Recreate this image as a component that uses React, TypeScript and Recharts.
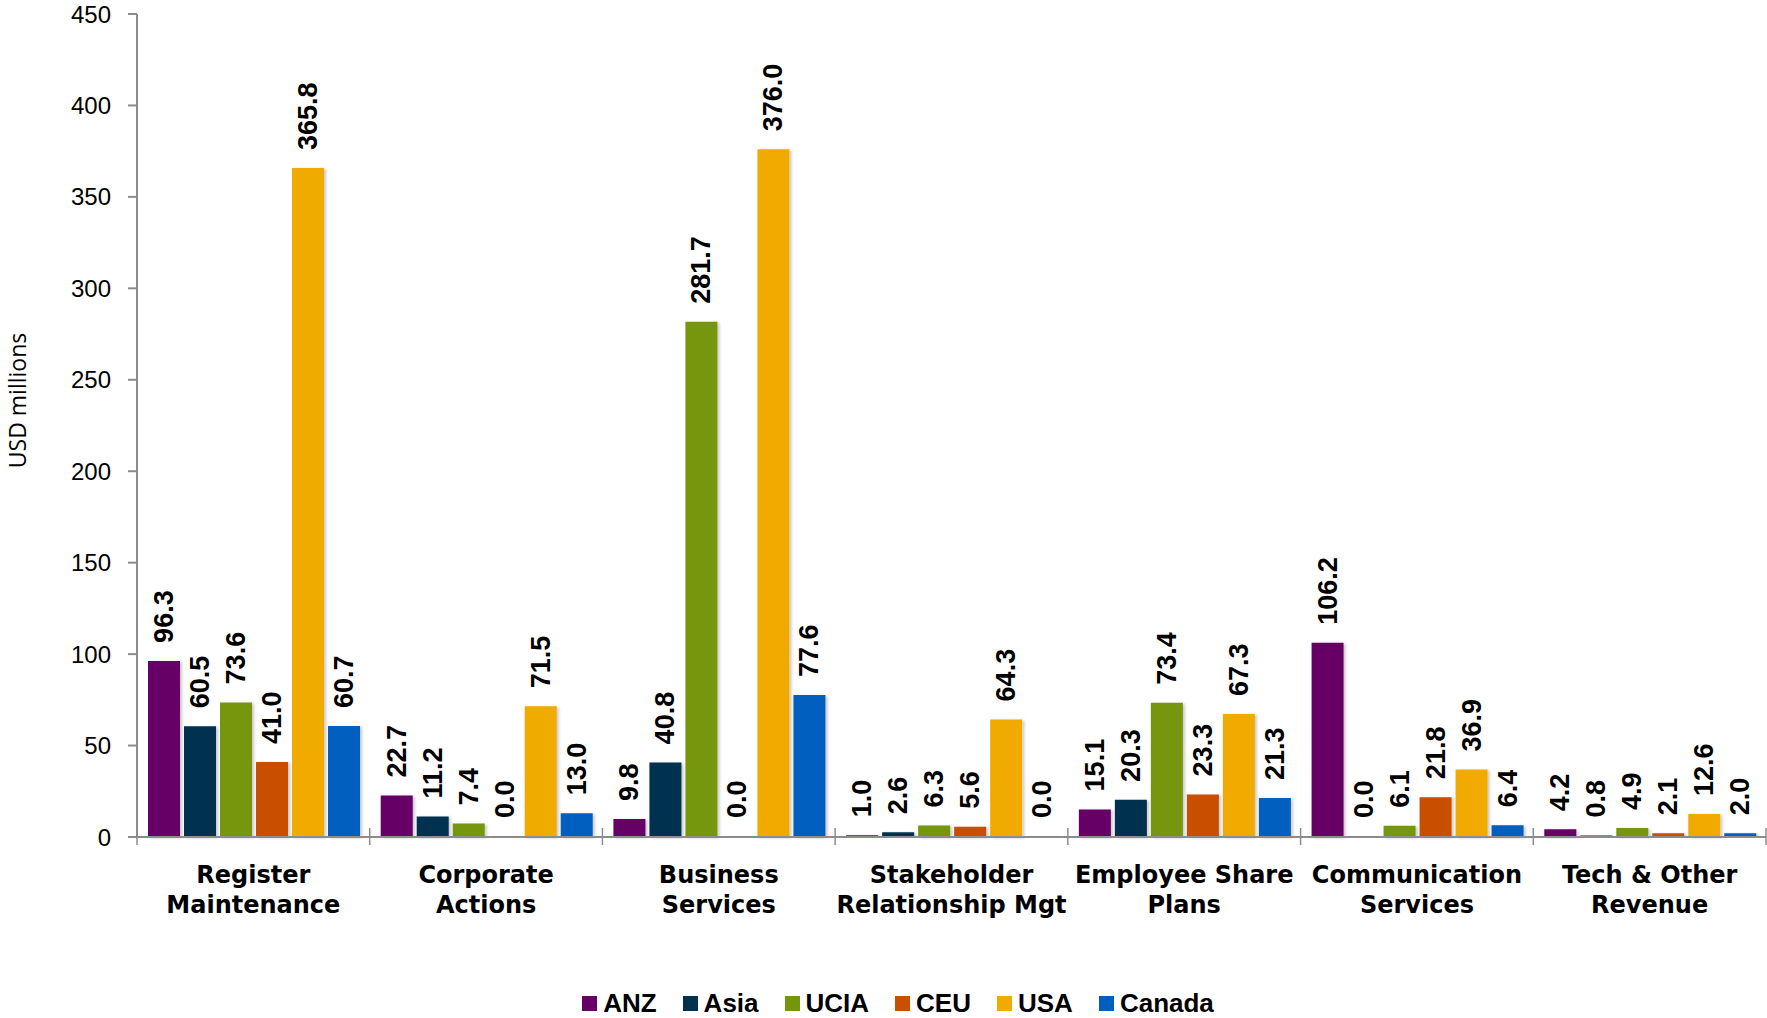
import { BarChart, Bar, XAxis, YAxis, Legend, LabelList } from 'recharts';

if (typeof document !== 'undefined') {
  document.body.style.margin = '0';
}

const CATEGORIES = [
  'Register\nMaintenance',
  'Corporate\nActions',
  'Business\nServices',
  'Stakeholder\nRelationship Mgt',
  'Employee Share\nPlans',
  'Communication\nServices',
  'Tech & Other\nRevenue',
];

const ANZ = [96.3, 22.7, 9.8, 1.0, 15.1, 106.2, 4.2];
const ASIA = [60.5, 11.2, 40.8, 2.6, 20.3, 0.0, 0.8];
const UCIA = [73.6, 7.4, 281.7, 6.3, 73.4, 6.1, 4.9];
const CEU = [41.0, 0.0, 0.0, 5.6, 23.3, 21.8, 2.1];
const USA = [365.8, 71.5, 376.0, 64.3, 67.3, 36.9, 12.6];
const CANADA = [60.7, 13.0, 77.6, 0.0, 21.3, 6.4, 2.0];

const Y_TICKS = [0, 50, 100, 150, 200, 250, 300, 350, 400, 450];

const SERIES = [
  { key: 'ANZ', values: ANZ, color: '#660066' },
  { key: 'Asia', values: ASIA, color: '#00314f' },
  { key: 'UCIA', values: UCIA, color: '#74960a' },
  { key: 'CEU', values: CEU, color: '#c85000' },
  { key: 'USA', values: USA, color: '#f0aa00' },
  { key: 'Canada', values: CANADA, color: '#005ebf' },
];

const chartData = CATEGORIES.map((name, i) => {
  const row: Record<string, string | number> = { name };
  SERIES.forEach((s) => {
    row[s.key] = s.values[i];
  });
  return row;
});

const AXIS_GRAY = '#8c8c8c';

// category label in two lines + separator ticks on the boundaries
function CategoryTick(props: any) {
  const { x, y, payload, index } = props;
  const half = payload && payload.offset ? payload.offset : 0;
  const lines = String(payload.value).split('\n');
  return (
    <g>
      <line x1={x - half} x2={x - half} y1={y - 9} y2={y + 8} stroke={AXIS_GRAY} strokeWidth={1.5} />
      {index === CATEGORIES.length - 1 && (
        <line x1={x + half} x2={x + half} y1={y - 9} y2={y + 8} stroke={AXIS_GRAY} strokeWidth={1.5} />
      )}
      <text
        x={x}
        y={y + 46}
        textAnchor="middle"
        fontFamily="DejaVu Sans"
        fontWeight="bold"
        fontSize={24}
        fill="#000"
      >
        {lines.map((l, i) => (
          <tspan key={i} x={x} dy={i === 0 ? 0 : 30}>
            {l}
          </tspan>
        ))}
      </text>
    </g>
  );
}

function ValueLabel(props: any) {
  const { x, y, width, height, value } = props;
  const cx = x + width / 2;
  // label sits 18px above the bar top
  const top = height < 0 ? y + height : y;
  const ty = top - 18;
  return (
    <text
      x={cx}
      y={ty}
      transform={`rotate(-90, ${cx}, ${ty})`}
      textAnchor="start"
      dominantBaseline="central"
      fontFamily="Liberation Sans"
      fontWeight="bold"
      fontSize={27}
      fill="#000"
    >
      {Number(value).toFixed(1)}
    </text>
  );
}

function YTitle(props: any) {
  const vb = props.viewBox || { x: 0, y: 0, height: 0 };
  const cx = vb.x + 17;
  const cy = vb.y + vb.height / 2 - 25;
  return (
    <text
      x={cx}
      y={cy}
      transform={`rotate(-90, ${cx}, ${cy})`}
      textAnchor="middle"
      dominantBaseline="central"
      fontFamily="Open Sans"
      fontSize={23}
      fill="#000"
    >
      USD millions
    </text>
  );
}

function LegendContent() {
  return (
    <div
      style={{
        display: 'flex',
        justifyContent: 'center',
        alignItems: 'center',
        height: 30,
        paddingLeft: 30,
        fontFamily: 'Liberation Sans',
        fontWeight: 'bold',
        fontSize: 26,
        color: '#000',
      }}
    >
      {SERIES.map((s, i) => (
        <div key={s.key} style={{ display: 'flex', alignItems: 'center', marginLeft: i === 0 ? 0 : 26 }}>
          <span style={{ width: 15, height: 15, background: s.color, marginRight: 6, display: 'inline-block' }} />
          <span>{s.key}</span>
        </div>
      ))}
    </div>
  );
}

export default function App() {
  return (
    <BarChart
      width={1767}
      height={1018}
      data={chartData}
      margin={{ top: 14, right: 1, bottom: 0, left: 0 }}
      barCategoryGap={11}
      barGap={4}
    >
      <defs>
        <filter id="barShadow" x="-20%" y="-20%" width="140%" height="140%">
          <feDropShadow dx={2} dy={1} stdDeviation={1.5} floodColor="#000" floodOpacity={0.22} />
        </filter>
      </defs>
      <XAxis
        dataKey="name"
        interval={0}
        height={151}
        tickLine={false}
        tickSize={0}
        tickMargin={0}
        axisLine={{ stroke: AXIS_GRAY, strokeWidth: 2 }}
        tick={<CategoryTick />}
      />
      <YAxis
        width={137}
        domain={[0, 450]}
        ticks={Y_TICKS}
        interval={0}
        tickSize={9}
        tickMargin={17}
        axisLine={{ stroke: AXIS_GRAY, strokeWidth: 2 }}
        tickLine={{ stroke: AXIS_GRAY, strokeWidth: 2 }}
        tick={{ fontFamily: 'Liberation Sans', fontSize: 24, fill: '#000' }}
        label={<YTitle />}
      />
      <Legend verticalAlign="bottom" height={30} content={<LegendContent />} />
      {SERIES.map((s) => (
        <Bar
          key={s.key}
          dataKey={s.key}
          fill={s.color}
          minPointSize={1}
          isAnimationActive={false}
          filter="url(#barShadow)"
        >
          <LabelList dataKey={s.key} content={<ValueLabel />} />
        </Bar>
      ))}
    </BarChart>
  );
}
